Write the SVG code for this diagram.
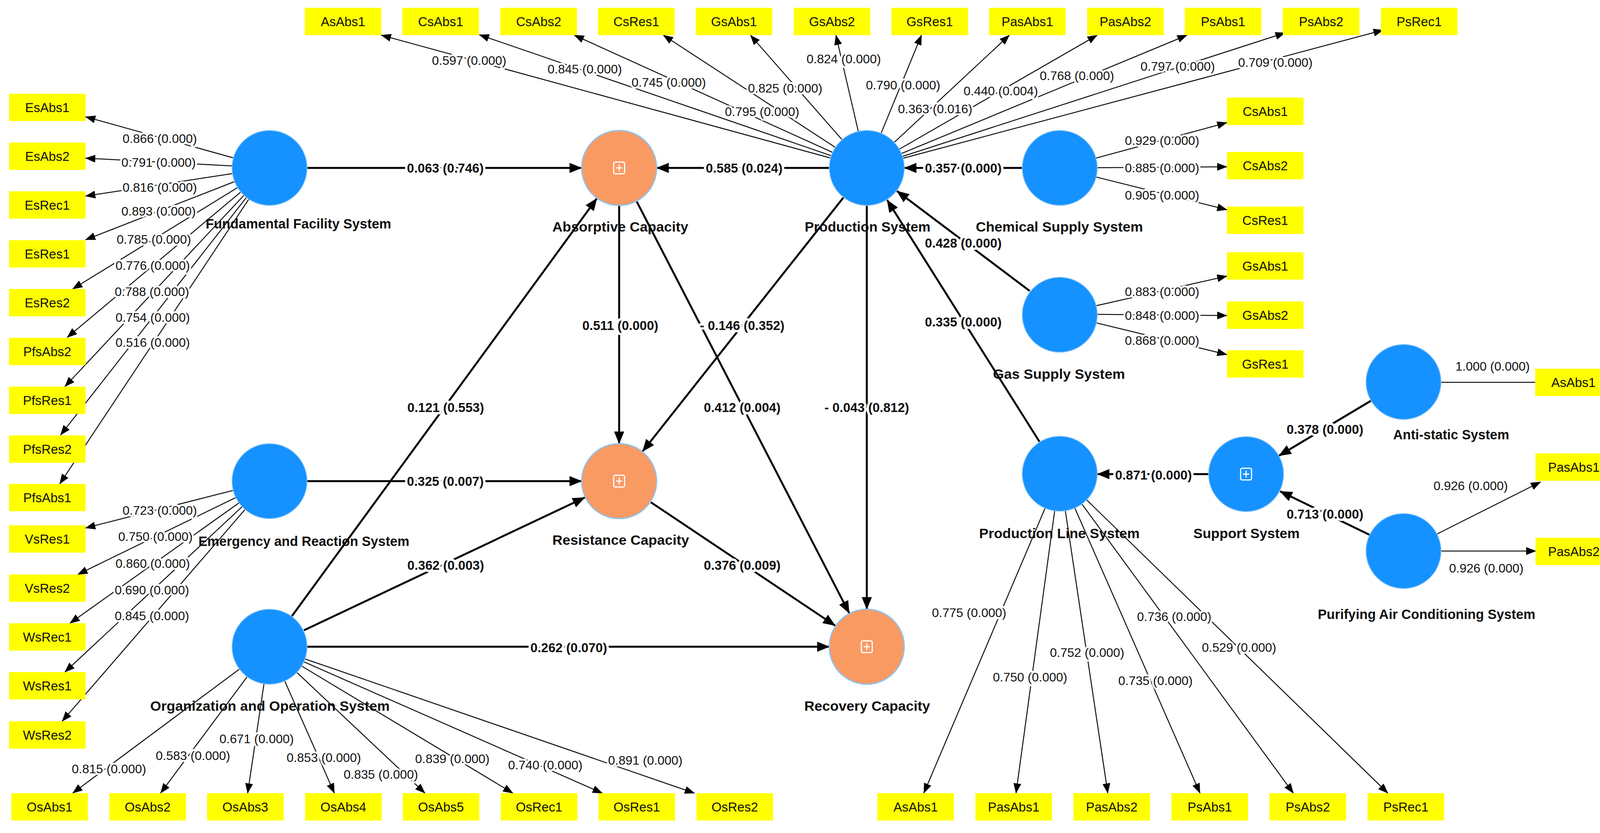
<svg xmlns="http://www.w3.org/2000/svg" width="4162" height="2133" viewBox="0 0 4162 2133">
<style>
.bg{fill:#fff}
.lv{fill:#1592FF;stroke:#8AC4F5;stroke-width:2}
.cp{fill:#F99A63;stroke:#8AC4F5;stroke-width:3}
.ic{fill:none;stroke:#fff;stroke-width:3}
.bx{fill:#FFFF00}
.bt{font-family:"Liberation Sans",Arial,sans-serif;font-size:33px;fill:#111;text-anchor:middle}
.nl{font-family:"Liberation Sans",Arial,sans-serif;font-size:35px;font-weight:bold;fill:#111;text-anchor:middle}
.s{stroke:#000;stroke-width:5;fill:none;marker-end:url(#ah)}
.l{stroke:#111;stroke-width:2.5;fill:none;marker-end:url(#al)}
.pl{font-family:"Liberation Sans",Arial,sans-serif;font-size:33px;font-weight:bold;fill:#111;text-anchor:middle;stroke:#fff;stroke-width:12;paint-order:stroke;stroke-linejoin:round}
.ll{font-family:"Liberation Sans",Arial,sans-serif;font-size:32px;fill:#111;text-anchor:middle;stroke:#fff;stroke-width:10;paint-order:stroke;stroke-linejoin:round}
</style>
<defs>
<marker id="ah" markerUnits="userSpaceOnUse" markerWidth="32" markerHeight="26" refX="31" refY="13" orient="auto"><path d="M0,0 L32,13 L0,26 z" fill="#000"/></marker>
<marker id="al" markerUnits="userSpaceOnUse" markerWidth="26" markerHeight="20" refX="25" refY="10" orient="auto"><path d="M0,0 L26,10 L0,20 z" fill="#000"/></marker>
</defs>
<rect class="bg" x="0" y="0" width="4162" height="2133"/>
<g id="connectors">
<!-- FFS loadings -->
<path class="l" d="M690,430 L219,299"/>
<path class="l" d="M690,430 L219,405"/>
<path class="l" d="M690,430 L219,502"/>
<path class="l" d="M690,430 L219,614"/>
<path class="l" d="M690,430 L186,740"/>
<path class="l" d="M690,430 L172,864"/>
<path class="l" d="M690,430 L166,990"/>
<path class="l" d="M690,430 L155,1114"/>
<path class="l" d="M690,430 L153,1239"/>
<!-- Emergency loadings -->
<path class="l" d="M690,1232 L219,1352"/>
<path class="l" d="M690,1232 L199,1471"/>
<path class="l" d="M690,1232 L179,1596"/>
<path class="l" d="M690,1232 L166,1721"/>
<path class="l" d="M690,1232 L159,1847"/>
<!-- Org loadings -->
<path class="l" d="M690,1656 L186,2031"/>
<path class="l" d="M690,1656 L411,2031"/>
<path class="l" d="M690,1656 L634,2031"/>
<path class="l" d="M690,1656 L856,2031"/>
<path class="l" d="M690,1656 L1088,2031"/>
<path class="l" d="M690,1656 L1313,2031"/>
<path class="l" d="M690,1656 L1542,2031"/>
<path class="l" d="M690,1656 L1778,2031"/>
<!-- Production loadings -->
<path class="l" d="M2219,430 L976,90"/>
<path class="l" d="M2219,430 L1227,89"/>
<path class="l" d="M2219,430 L1470,90"/>
<path class="l" d="M2219,430 L1698,90"/>
<path class="l" d="M2219,430 L1921,90"/>
<path class="l" d="M2219,430 L2140,90"/>
<path class="l" d="M2219,430 L2359,90"/>
<path class="l" d="M2219,430 L2584,90"/>
<path class="l" d="M2219,430 L2809,90"/>
<path class="l" d="M2219,430 L3039,90"/>
<path class="l" d="M2219,430 L3290,84"/>
<path class="l" d="M2219,430 L3541,77"/>
<!-- Chemical / Gas -->
<path class="l" d="M2713,430 L3141,314"/>
<path class="l" d="M2713,430 L3141,427"/>
<path class="l" d="M2713,430 L3141,537"/>
<path class="l" d="M2713,804 L3141,707"/>
<path class="l" d="M2713,804 L3141,808"/>
<path class="l" d="M2713,804 L3141,908"/>
<!-- Anti-static, Purifying -->
<path d="M3594,979 L3930,979" stroke="#111" stroke-width="2.5"/>
<path class="l" d="M3592,1411 L3944,1234"/>
<path class="l" d="M3592,1411 L3932,1411"/>
<!-- Production line loadings -->
<path class="l" d="M2713,1213 L2365,2031"/>
<path class="l" d="M2713,1213 L2601,2031"/>
<path class="l" d="M2713,1213 L2836,2031"/>
<path class="l" d="M2713,1213 L3072,2031"/>
<path class="l" d="M2713,1213 L3311,2031"/>
<path class="l" d="M2713,1213 L3553,2031"/>
<!-- Structural paths -->
<path class="s" d="M787,430 L1489,430"/>
<path class="s" d="M2123,430 L1681,430"/>
<path class="s" d="M2617,430 L2315,430"/>
<path class="s" d="M2636,745 L2296,489"/>
<path class="s" d="M2661,1131 L2271,512"/>
<path class="s" d="M1585,526 L1585,1136"/>
<path class="s" d="M2159,506 L1645,1156"/>
<path class="s" d="M1630,516 L2174,1570"/>
<path class="s" d="M2219,526 L2219,1560"/>
<path class="s" d="M787,1232 L1489,1232"/>
<path class="s" d="M747,1578 L1528,508"/>
<path class="s" d="M778,1614 L1497,1274"/>
<path class="s" d="M787,1656 L2123,1656"/>
<path class="s" d="M1666,1286 L2138,1602"/>
<path class="s" d="M3094,1214 L2809,1214"/>
<path class="s" d="M3510,1026 L3274,1167"/>
<path class="s" d="M3507,1370 L3277,1258"/>
<!-- path labels -->
<text class="pl" x="1140" y="442">0.063 (0.746)</text>
<text class="pl" x="1905" y="442">0.585 (0.024)</text>
<text class="pl" x="2466" y="442">0.357 (0.000)</text>
<text class="pl" x="2466" y="634">0.428 (0.000)</text>
<text class="pl" x="2466" y="836">0.335 (0.000)</text>
<text class="pl" x="1588" y="845">0.511 (0.000)</text>
<text class="pl" x="1900" y="845">- 0.146 (0.352)</text>
<text class="pl" x="1900" y="1055">0.412 (0.004)</text>
<text class="pl" x="2219" y="1055">- 0.043 (0.812)</text>
<text class="pl" x="1141" y="1055">0.121 (0.553)</text>
<text class="pl" x="1140" y="1244">0.325 (0.007)</text>
<text class="pl" x="1141" y="1459">0.362 (0.003)</text>
<text class="pl" x="1900" y="1459">0.376 (0.009)</text>
<text class="pl" x="1456" y="1670">0.262 (0.070)</text>
<text class="pl" x="2953" y="1228">0.871 (0.000)</text>
<text class="pl" x="3392" y="1111">0.378 (0.000)</text>
<text class="pl" x="3392" y="1328">0.713 (0.000)</text>
<!-- loading labels -->
<text class="ll" x="409" y="366">0.866 (0.000)</text>
<text class="ll" x="406" y="427">0.791 (0.000)</text>
<text class="ll" x="409" y="491">0.816 (0.000)</text>
<text class="ll" x="406" y="552">0.893 (0.000)</text>
<text class="ll" x="394" y="624">0.785 (0.000)</text>
<text class="ll" x="391" y="691">0.776 (0.000)</text>
<text class="ll" x="389" y="758">0.788 (0.000)</text>
<text class="ll" x="391" y="824">0.754 (0.000)</text>
<text class="ll" x="391" y="888">0.516 (0.000)</text>
<text class="ll" x="409" y="1318">0.723 (0.000)</text>
<text class="ll" x="398" y="1385">0.750 (0.000)</text>
<text class="ll" x="391" y="1454">0.860 (0.000)</text>
<text class="ll" x="389" y="1522">0.690 (0.000)</text>
<text class="ll" x="389" y="1588">0.845 (0.000)</text>
<text class="ll" x="279" y="1980">0.815 (0.000)</text>
<text class="ll" x="494" y="1946">0.583 (0.000)</text>
<text class="ll" x="657" y="1903">0.671 (0.000)</text>
<text class="ll" x="829" y="1951">0.853 (0.000)</text>
<text class="ll" x="975" y="1994">0.835 (0.000)</text>
<text class="ll" x="1158" y="1954">0.839 (0.000)</text>
<text class="ll" x="1396" y="1970">0.740 (0.000)</text>
<text class="ll" x="1652" y="1958">0.891 (0.000)</text>
<text class="ll" x="1201" y="166">0.597 (0.000)</text>
<text class="ll" x="1497" y="188">0.845 (0.000)</text>
<text class="ll" x="1712" y="222">0.745 (0.000)</text>
<text class="ll" x="2010" y="237">0.825 (0.000)</text>
<text class="ll" x="1951" y="297">0.795 (0.000)</text>
<text class="ll" x="2160" y="162">0.824 (0.000)</text>
<text class="ll" x="2312" y="229">0.790 (0.000)</text>
<text class="ll" x="2562" y="244">0.440 (0.004)</text>
<text class="ll" x="2394" y="290">0.363 (0.016)</text>
<text class="ll" x="2757" y="205">0.768 (0.000)</text>
<text class="ll" x="3015" y="181">0.797 (0.000)</text>
<text class="ll" x="3265" y="171">0.709 (0.000)</text>
<text class="ll" x="2975" y="371">0.929 (0.000)</text>
<text class="ll" x="2975" y="441">0.885 (0.000)</text>
<text class="ll" x="2975" y="511">0.905 (0.000)</text>
<text class="ll" x="2975" y="758">0.883 (0.000)</text>
<text class="ll" x="2975" y="819">0.848 (0.000)</text>
<text class="ll" x="2975" y="883">0.868 (0.000)</text>
<text class="ll" x="3821" y="949">1.000 (0.000)</text>
<text class="ll" x="3765" y="1255">0.926 (0.000)</text>
<text class="ll" x="3805" y="1466">0.926 (0.000)</text>
<text class="ll" x="2481" y="1580">0.775 (0.000)</text>
<text class="ll" x="2637" y="1745">0.750 (0.000)</text>
<text class="ll" x="2783" y="1682">0.752 (0.000)</text>
<text class="ll" x="2958" y="1754">0.735 (0.000)</text>
<text class="ll" x="3006" y="1590">0.736 (0.000)</text>
<text class="ll" x="3172" y="1669">0.529 (0.000)</text>
</g>
<g id="ffs"><circle class="lv" cx="690" cy="430" r="96"/><text class="nl" x="764" y="585" textLength="475" lengthAdjust="spacingAndGlyphs">Fundamental Facility System</text></g>
<g id="absorptive"><circle class="cp" cx="1585" cy="430" r="96"/><rect class="ic" x="1571" y="415" width="28" height="30" rx="4"/><path class="ic" d="M1577,430 H1593 M1585,421 V439"/><text class="nl" x="1588" y="593" textLength="348" lengthAdjust="spacingAndGlyphs">Absorptive Capacity</text></g>
<g id="production"><circle class="lv" cx="2219" cy="430" r="96"/><text class="nl" x="2221" y="593" textLength="322" lengthAdjust="spacingAndGlyphs">Production System</text></g>
<g id="chemical"><circle class="lv" cx="2713" cy="430" r="96"/><text class="nl" x="2712" y="593" textLength="428" lengthAdjust="spacingAndGlyphs">Chemical Supply System</text></g>
<g id="gas"><circle class="lv" cx="2713" cy="806" r="96"/><text class="nl" x="2711" y="970" textLength="338" lengthAdjust="spacingAndGlyphs">Gas Supply System</text></g>
<g id="emergency"><circle class="lv" cx="690" cy="1232" r="96"/><text class="nl" x="778" y="1398" textLength="540" lengthAdjust="spacingAndGlyphs">Emergency and Reaction System</text></g>
<g id="resistance"><circle class="cp" cx="1585" cy="1232" r="96"/><rect class="ic" x="1571" y="1217" width="28" height="30" rx="4"/><path class="ic" d="M1577,1232 H1593 M1585,1223 V1241"/><text class="nl" x="1589" y="1395" textLength="350" lengthAdjust="spacingAndGlyphs">Resistance Capacity</text></g>
<g id="organization"><circle class="lv" cx="690" cy="1656" r="96"/><text class="nl" x="691" y="1820" textLength="613" lengthAdjust="spacingAndGlyphs">Organization and Operation System</text></g>
<g id="recovery"><circle class="cp" cx="2219" cy="1656" r="96"/><rect class="ic" x="2205" y="1641" width="28" height="30" rx="4"/><path class="ic" d="M2211,1656 H2227 M2219,1647 V1665"/><text class="nl" x="2220" y="1820" textLength="322" lengthAdjust="spacingAndGlyphs">Recovery Capacity</text></g>
<g id="prodline"><circle class="lv" cx="2713" cy="1213" r="96"/><text class="nl" x="2712" y="1378" textLength="411" lengthAdjust="spacingAndGlyphs">Production Line System</text></g>
<g id="support"><circle class="lv" cx="3190" cy="1214" r="96"/><rect class="ic" x="3176" y="1199" width="28" height="30" rx="4"/><path class="ic" d="M3182,1214 H3198 M3190,1205 V1223"/><text class="nl" x="3191" y="1378" textLength="272" lengthAdjust="spacingAndGlyphs">Support System</text></g>
<g id="antistatic"><circle class="lv" cx="3593" cy="978" r="96"/><text class="nl" x="3715" y="1125" textLength="297" lengthAdjust="spacingAndGlyphs">Anti-static System</text></g>
<g id="purifying"><circle class="lv" cx="3593" cy="1411" r="96"/><text class="nl" x="3652" y="1585" textLength="557" lengthAdjust="spacingAndGlyphs">Purifying Air Conditioning System</text></g>
<g id="indicators">
<g><rect class="bx" x="780" y="20" width="196" height="70"/><text class="bt" x="878" y="67">AsAbs1</text></g>
<g><rect class="bx" x="1030" y="20" width="196" height="70"/><text class="bt" x="1128" y="67">CsAbs1</text></g>
<g><rect class="bx" x="1281" y="20" width="196" height="70"/><text class="bt" x="1379" y="67">CsAbs2</text></g>
<g><rect class="bx" x="1531" y="20" width="196" height="70"/><text class="bt" x="1629" y="67">CsRes1</text></g>
<g><rect class="bx" x="1781" y="20" width="196" height="70"/><text class="bt" x="1879" y="67">GsAbs1</text></g>
<g><rect class="bx" x="2032" y="20" width="196" height="70"/><text class="bt" x="2130" y="67">GsAbs2</text></g>
<g><rect class="bx" x="2282" y="20" width="196" height="70"/><text class="bt" x="2380" y="67">GsRes1</text></g>
<g><rect class="bx" x="2532" y="20" width="196" height="70"/><text class="bt" x="2630" y="67">PasAbs1</text></g>
<g><rect class="bx" x="2783" y="20" width="196" height="70"/><text class="bt" x="2881" y="67">PasAbs2</text></g>
<g><rect class="bx" x="3033" y="20" width="196" height="70"/><text class="bt" x="3131" y="67">PsAbs1</text></g>
<g><rect class="bx" x="3284" y="20" width="196" height="70"/><text class="bt" x="3382" y="67">PsAbs2</text></g>
<g><rect class="bx" x="3535" y="20" width="196" height="70"/><text class="bt" x="3633" y="67">PsRec1</text></g>
<g><rect class="bx" x="23" y="240" width="196" height="70"/><text class="bt" x="121" y="287">EsAbs1</text></g>
<g><rect class="bx" x="23" y="365" width="196" height="70"/><text class="bt" x="121" y="412">EsAbs2</text></g>
<g><rect class="bx" x="23" y="490" width="196" height="70"/><text class="bt" x="121" y="537">EsRec1</text></g>
<g><rect class="bx" x="23" y="615" width="196" height="70"/><text class="bt" x="121" y="662">EsRes1</text></g>
<g><rect class="bx" x="23" y="740" width="196" height="70"/><text class="bt" x="121" y="787">EsRes2</text></g>
<g><rect class="bx" x="23" y="865" width="196" height="70"/><text class="bt" x="121" y="912">PfsAbs2</text></g>
<g><rect class="bx" x="23" y="990" width="196" height="70"/><text class="bt" x="121" y="1037">PfsRes1</text></g>
<g><rect class="bx" x="23" y="1115" width="196" height="70"/><text class="bt" x="121" y="1162">PfsRes2</text></g>
<g><rect class="bx" x="23" y="1239" width="196" height="70"/><text class="bt" x="121" y="1286">PfsAbs1</text></g>
<g><rect class="bx" x="23" y="1345" width="196" height="70"/><text class="bt" x="121" y="1392">VsRes1</text></g>
<g><rect class="bx" x="23" y="1471" width="196" height="70"/><text class="bt" x="121" y="1518">VsRes2</text></g>
<g><rect class="bx" x="23" y="1596" width="196" height="70"/><text class="bt" x="121" y="1643">WsRec1</text></g>
<g><rect class="bx" x="23" y="1721" width="196" height="70"/><text class="bt" x="121" y="1768">WsRes1</text></g>
<g><rect class="bx" x="23" y="1847" width="196" height="70"/><text class="bt" x="121" y="1894">WsRes2</text></g>
<g><rect class="bx" x="3141" y="250" width="196" height="70"/><text class="bt" x="3239" y="297">CsAbs1</text></g>
<g><rect class="bx" x="3141" y="389" width="196" height="70"/><text class="bt" x="3239" y="436">CsAbs2</text></g>
<g><rect class="bx" x="3141" y="529" width="196" height="70"/><text class="bt" x="3239" y="576">CsRes1</text></g>
<g><rect class="bx" x="3141" y="646" width="196" height="70"/><text class="bt" x="3239" y="693">GsAbs1</text></g>
<g><rect class="bx" x="3141" y="772" width="196" height="70"/><text class="bt" x="3239" y="819">GsAbs2</text></g>
<g><rect class="bx" x="3141" y="897" width="196" height="70"/><text class="bt" x="3239" y="944">GsRes1</text></g>
<g><rect class="bx" x="3930" y="944" width="196" height="70"/><text class="bt" x="4028" y="991">AsAbs1</text></g>
<g><rect class="bx" x="3931" y="1161" width="196" height="70"/><text class="bt" x="4029" y="1208">PasAbs1</text></g>
<g><rect class="bx" x="3931" y="1377" width="196" height="70"/><text class="bt" x="4029" y="1424">PasAbs2</text></g>
<g><rect class="bx" x="29" y="2031" width="196" height="70"/><text class="bt" x="127" y="2078">OsAbs1</text></g>
<g><rect class="bx" x="280" y="2031" width="196" height="70"/><text class="bt" x="378" y="2078">OsAbs2</text></g>
<g><rect class="bx" x="530" y="2031" width="196" height="70"/><text class="bt" x="628" y="2078">OsAbs3</text></g>
<g><rect class="bx" x="781" y="2031" width="196" height="70"/><text class="bt" x="879" y="2078">OsAbs4</text></g>
<g><rect class="bx" x="1031" y="2031" width="196" height="70"/><text class="bt" x="1129" y="2078">OsAbs5</text></g>
<g><rect class="bx" x="1282" y="2031" width="196" height="70"/><text class="bt" x="1380" y="2078">OsRec1</text></g>
<g><rect class="bx" x="1532" y="2031" width="196" height="70"/><text class="bt" x="1630" y="2078">OsRes1</text></g>
<g><rect class="bx" x="1783" y="2031" width="196" height="70"/><text class="bt" x="1881" y="2078">OsRes2</text></g>
<g><rect class="bx" x="2246" y="2031" width="196" height="70"/><text class="bt" x="2344" y="2078">AsAbs1</text></g>
<g><rect class="bx" x="2497" y="2031" width="196" height="70"/><text class="bt" x="2595" y="2078">PasAbs1</text></g>
<g><rect class="bx" x="2748" y="2031" width="196" height="70"/><text class="bt" x="2846" y="2078">PasAbs2</text></g>
<g><rect class="bx" x="2999" y="2031" width="196" height="70"/><text class="bt" x="3097" y="2078">PsAbs1</text></g>
<g><rect class="bx" x="3250" y="2031" width="196" height="70"/><text class="bt" x="3348" y="2078">PsAbs2</text></g>
<g><rect class="bx" x="3501" y="2031" width="196" height="70"/><text class="bt" x="3599" y="2078">PsRec1</text></g>
</g>
</svg>
